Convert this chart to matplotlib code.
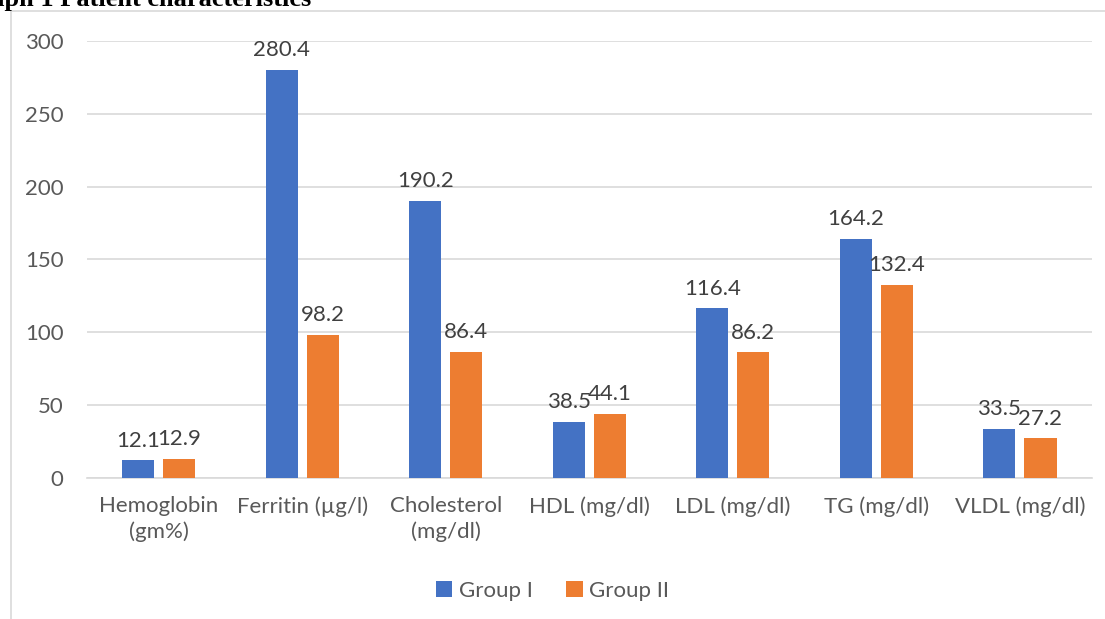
import numpy as np
import matplotlib.pyplot as plt
from matplotlib.lines import Line2D

categories = ['Hemoglobin\n(gm%)', 'Ferritin (µg/l)', 'Cholesterol\n(mg/dl)', 'HDL (mg/dl)',
              'LDL (mg/dl)', 'TG (mg/dl)', 'VLDL (mg/dl)']
group1 = [12.1, 280.4, 190.2, 38.5, 116.4, 164.2, 33.5]
group2 = [12.9, 98.2, 86.4, 44.1, 86.2, 132.4, 27.2]
series_names = ['Group I', 'Group II']

plt.rcParams['font.family'] = ['Lato', 'DejaVu Sans']

fig = plt.figure(figsize=(11.05, 6.19), dpi=100)
ax = fig.add_axes([0.0787, 0.2278, 0.9093, 0.706])

x = np.arange(len(categories))
w = 0.223
gap = 0.063
b1 = ax.bar(x - (w + gap) / 2, group1, w, color='#4472C4', label=series_names[0], zorder=3)
b2 = ax.bar(x + (w + gap) / 2, group2, w, color='#ED7D31', label=series_names[1], zorder=3)

for bars in (b1, b2):
    for r in bars:
        ax.annotate(f'{r.get_height():.1f}', (r.get_x() + r.get_width() / 2, r.get_height()),
                    xytext=(0, 7), textcoords='offset points', ha='center', va='bottom',
                    fontsize=16, color='#404040')

ax.set_xlim(-0.5, len(categories) - 0.5)
ax.set_ylim(0, 300)
ax.set_yticks(range(0, 301, 50))
ax.set_xticks(x)
ax.set_xticklabels(categories, fontsize=16, color='#595959', linespacing=1.35)
ax.tick_params(axis='y', labelsize=16, labelcolor='#595959', length=0, pad=17)
ax.tick_params(axis='x', length=0, pad=13)
ax.grid(axis='y', color='#D9D9D9', linewidth=1.2, zorder=0)
for s in ['top', 'right', 'left']:
    ax.spines[s].set_visible(False)
ax.spines['bottom'].set_color('#D9D9D9')
ax.spines['bottom'].set_linewidth(1.2)

ax.legend(loc='center', bbox_to_anchor=(0.5, (619 - 591) / 619), bbox_transform=fig.transFigure,
          ncol=2, frameon=False, fontsize=16, labelcolor='#595959',
          handlelength=0.75, handleheight=0.75, handletextpad=0.3, columnspacing=1.5)

# chart area border (cropped)
fig.add_artist(Line2D([11 / 1105, 11 / 1105], [0, 1 - 11 / 619], color='#D9D9D9', linewidth=1.2))
fig.add_artist(Line2D([11 / 1105, 1], [1 - 11 / 619, 1 - 11 / 619], color='#D9D9D9', linewidth=1.2))

fig.text(-41 / 1105, 1 - 6 / 619, 'Graph 1 Patient characteristics', family=['Liberation Serif'],
         fontweight='bold', fontsize=19, va='baseline', ha='left', color='black')

fig.savefig('out.png', dpi=100)
